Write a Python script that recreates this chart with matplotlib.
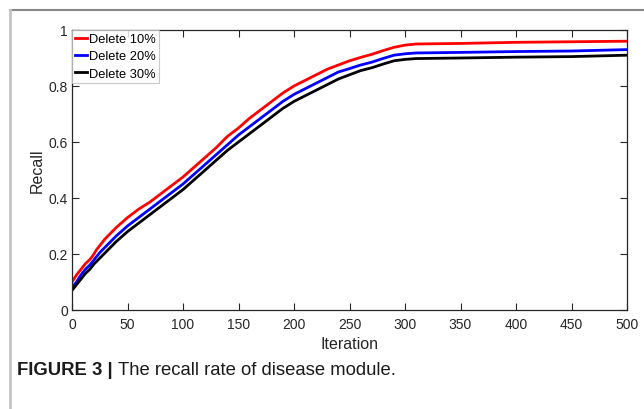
from matplotlib import pyplot as plt
from matplotlib.lines import Line2D

plt.rcParams['font.family'] = ['Liberation Sans', 'DejaVu Sans']

# recall vs iteration
it_red = [0, 4, 8, 12, 16, 19, 22, 26, 30, 35, 40, 50, 60, 70, 80, 90, 100, 110, 120, 130,
          140, 150, 160, 170, 180, 190, 200, 210, 220, 230, 240, 250, 260, 270, 280, 290,
          300, 310, 350, 400, 450, 500]
del10 = [0.10, 0.125, 0.145, 0.165, 0.18, 0.195, 0.215, 0.235, 0.255, 0.275, 0.295, 0.33,
         0.36, 0.385, 0.415, 0.445, 0.475, 0.51, 0.545, 0.58, 0.62, 0.65, 0.685, 0.715,
         0.745, 0.775, 0.80, 0.82, 0.84, 0.86, 0.875, 0.89, 0.902, 0.913, 0.926, 0.938,
         0.946, 0.95, 0.952, 0.956, 0.958, 0.96]

it_bk = [0, 4, 8, 12, 16, 20, 25, 30, 35, 40, 50, 60, 70, 80, 90, 100, 110, 120, 130, 140,
         150, 160, 170, 180, 190, 200, 210, 220, 230, 240, 250, 260, 270, 280, 290, 300,
         310, 350, 400, 450, 500]
del20 = [0.08, 0.10, 0.125, 0.145, 0.16, 0.18, 0.205, 0.225, 0.245, 0.265, 0.30, 0.33,
         0.36, 0.39, 0.42, 0.45, 0.485, 0.52, 0.555, 0.59, 0.625, 0.655, 0.685, 0.715,
         0.745, 0.77, 0.79, 0.81, 0.83, 0.85, 0.862, 0.875, 0.885, 0.898, 0.91, 0.915,
         0.918, 0.92, 0.923, 0.925, 0.93]
del30 = [0.07, 0.09, 0.11, 0.13, 0.145, 0.165, 0.185, 0.205, 0.225, 0.245, 0.28, 0.31,
         0.34, 0.37, 0.40, 0.43, 0.465, 0.50, 0.535, 0.57, 0.60, 0.63, 0.66, 0.69, 0.72,
         0.745, 0.765, 0.785, 0.805, 0.825, 0.84, 0.855, 0.865, 0.878, 0.89, 0.895, 0.898,
         0.90, 0.903, 0.905, 0.91]

xticks = [0, 50, 100, 150, 200, 250, 300, 350, 400, 450, 500]
yticks = [0, 0.2, 0.4, 0.6, 0.8, 1]
yticklabels = ['0', '0.2', '0.4', '0.6', '0.8', '1']

fig = plt.figure(figsize=(6.44, 4.10), dpi=100)
ax = fig.add_axes([72/644, 99/410, 555/644, 280/410])

ax.plot(it_red, del10, color='#ff0000', lw=2, label='Delete 10%')
ax.plot(it_bk, del20, color='#0000ff', lw=2, label='Delete 20%')
ax.plot(it_bk, del30, color='black', lw=2, label='Delete 30%')

ax.set_xlim(0, 500)
ax.set_ylim(0, 1)
ax.set_xticks(xticks)
ax.set_yticks(yticks)
ax.set_yticklabels(yticklabels)
ax.tick_params(direction='in', length=5, width=0.8, top=True, right=True,
               labelsize=10, colors='#262626')
ax.tick_params(axis='x', pad=5)
ax.tick_params(axis='y', pad=3)
for s in ax.spines.values():
    s.set_linewidth(0.9)
    s.set_color('#262626')
ax.set_xlabel('Iteration', fontsize=11.5, color='#262626', labelpad=4)
ax.set_ylabel('Recall', fontsize=11.5, color='#262626', labelpad=3)

leg = ax.legend(loc='upper left', fontsize=9.3, frameon=True, fancybox=False,
                borderaxespad=0, borderpad=0.25, handlelength=0.9, handletextpad=0.15,
                labelspacing=0.4)
leg.get_frame().set_edgecolor('#bbbbbb')
leg.get_frame().set_linewidth(0.8)

# journal frame lines
fig.add_artist(Line2D([10/644, 1], [1 - 11/410, 1 - 11/410], color='#888888', lw=1.5))
fig.add_artist(Line2D([10/644, 10/644], [0, 1 - 11/410], color='#c4c4c4', lw=2))

cap_y = 1 - 371/410
t1 = fig.text(17/644, cap_y, 'FIGURE 3 |', fontsize=13.3, fontweight='bold',
              va='center', color='#1a1a1a')
fig.canvas.draw()
bb = t1.get_window_extent()
fig.text(bb.x1 / 644 + 5/644, cap_y, 'The recall rate of disease module.',
         fontsize=13.3, va='center', color='#1a1a1a')

fig.savefig('out.png', dpi=100)
